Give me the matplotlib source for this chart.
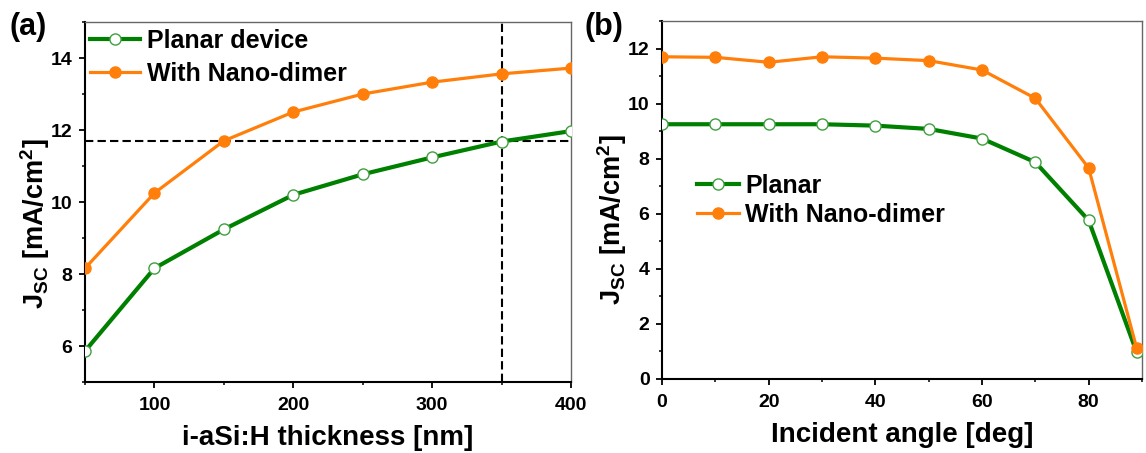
import matplotlib
matplotlib.use("Agg")
import matplotlib.pyplot as plt
from matplotlib.ticker import MultipleLocator

plt.rcParams.update({
    "font.family": "Liberation Sans",
    "font.weight": "bold",
    "mathtext.fontset": "custom",
    "mathtext.rm": "Liberation Sans:bold",
    "mathtext.it": "Liberation Sans:bold",
    "mathtext.bf": "Liberation Sans:bold",
})

# ── data ────────────────────────────────────────────────────────────────
thickness = [50, 100, 150, 200, 250, 300, 350, 400]
jsc_planar_thk = [5.86, 8.16, 9.24, 10.20, 10.77, 11.24, 11.68, 11.97]
jsc_dimer_thk = [8.16, 10.25, 11.70, 12.50, 13.00, 13.33, 13.56, 13.72]
ref_jsc = 11.69
ref_thickness = 350

angle = [0, 10, 20, 30, 40, 50, 60, 70, 80, 89]
jsc_planar_ang = [9.25, 9.25, 9.25, 9.25, 9.20, 9.08, 8.73, 7.87, 5.76, 0.97]
jsc_dimer_ang = [11.70, 11.68, 11.50, 11.70, 11.65, 11.56, 11.22, 10.19, 7.66, 1.12]

GREEN = "#008000"
GREEN_EDGE = "#3f9f3f"
ORANGE = "#ff7f0a"

fig = plt.figure(figsize=(11.46, 4.53), dpi=100)
ax_a = fig.add_axes([0.0742, 0.1567, 0.4241, 0.7947])
ax_b = fig.add_axes([0.5777, 0.1634, 0.4188, 0.7903])

ylabel = r"J$_{\mathrm{SC}}$ [mA/cm$^{\mathrm{2}}$]"


def style_axes(ax):
    for side in ("left", "bottom"):
        ax.spines[side].set_color("black")
        ax.spines[side].set_linewidth(1.5)
    for side in ("top", "right"):
        ax.spines[side].set_color("#666666")
        ax.spines[side].set_linewidth(1.0)
    ax.tick_params(which="major", direction="out", length=4, width=1.3,
                   labelsize=14, pad=5, top=False, right=False)
    ax.tick_params(axis="x", which="major", pad=7)
    ax.tick_params(which="minor", direction="out", length=2.5, width=1.1,
                   top=False, right=False)


# ── (a) J_sc vs thickness ─────────────────────────────────────────────
ax = ax_a
ax.plot(thickness, jsc_planar_thk, color=GREEN, lw=3, marker="o", ms=8,
        mfc="white", mec=GREEN_EDGE, mew=1.0, label="Planar device", zorder=3)
ax.plot(thickness, jsc_dimer_thk, color=ORANGE, lw=2.3, marker="o", ms=8,
        mfc=ORANGE, mec=ORANGE, label="With Nano-dimer", zorder=3)
ax.axhline(ref_jsc, color="black", ls=(0, (4, 2)), lw=1.5, zorder=2)
ax.axvline(ref_thickness, color="black", ls=(0, (4, 2)), lw=1.5, zorder=2)
ax.set_xlim(50, 400)
ax.set_ylim(5, 15)
ax.xaxis.set_major_locator(MultipleLocator(100))
ax.xaxis.set_minor_locator(MultipleLocator(50))
ax.yaxis.set_major_locator(MultipleLocator(2))
ax.yaxis.set_minor_locator(MultipleLocator(1))
style_axes(ax)
ax.set_xlabel("i-aSi:H thickness [nm]", fontsize=20, fontweight="bold", labelpad=8)
ax.set_ylabel(ylabel, fontsize=19.5, fontweight="bold")
ax.yaxis.set_label_coords(-0.068, 0.44)
ax.legend(loc="upper left", bbox_to_anchor=(-0.02, 1.022), frameon=False,
          fontsize=18, handlelength=2.0, handletextpad=0.25, labelspacing=0.36,
          borderaxespad=0.2)

# ── (b) J_sc vs incident angle ────────────────────────────────────────
ax = ax_b
ax.plot(angle, jsc_planar_ang, color=GREEN, lw=3, marker="o", ms=8,
        mfc="white", mec=GREEN_EDGE, mew=1.0, label="Planar", zorder=3)
ax.plot(angle, jsc_dimer_ang, color=ORANGE, lw=2.3, marker="o", ms=8,
        mfc=ORANGE, mec=ORANGE, label="With Nano-dimer", zorder=3)
ax.set_xlim(0, 90)
ax.set_ylim(0, 13)
ax.xaxis.set_major_locator(MultipleLocator(20))
ax.xaxis.set_minor_locator(MultipleLocator(10))
ax.yaxis.set_major_locator(MultipleLocator(2))
ax.yaxis.set_minor_locator(MultipleLocator(1))
style_axes(ax)
ax.set_xlabel("Incident angle [deg]", fontsize=20, fontweight="bold", labelpad=8)
ax.set_ylabel(ylabel, fontsize=19.5, fontweight="bold")
ax.yaxis.set_label_coords(-0.068, 0.444)
ax.legend(loc="upper left", bbox_to_anchor=(0.041, 0.614), frameon=False,
          fontsize=18, handlelength=1.7, handletextpad=0.25, labelspacing=0.2,
          borderaxespad=0.2)

fig.text(0.008, 0.94, "(a)", fontsize=22, fontweight="bold", ha="left", va="center")
fig.text(0.510, 0.94, "(b)", fontsize=22, fontweight="bold", ha="left", va="center")

fig.savefig("out.png", dpi=100)
